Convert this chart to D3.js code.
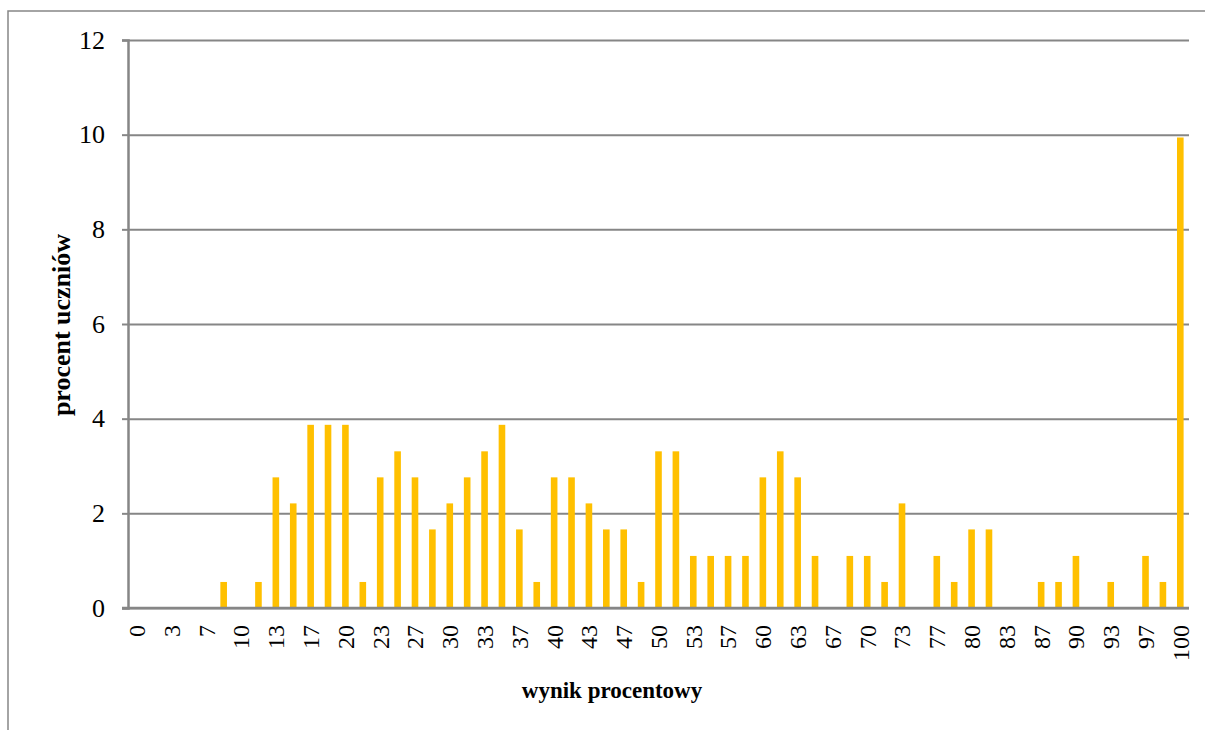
<!DOCTYPE html>
<html>
<head>
<meta charset="utf-8">
<script src="https://cdn.jsdelivr.net/npm/d3@7"></script>
<style>
    body { margin: 0; background: #fff; }
    svg { display: block; font-family: "Liberation Serif", "Times New Roman", serif; }
</style>
</head>
<body>
<div id="chart"></div>
<script>
// categories: percentage score (rounded), only every other one is labelled
const categories = [
    "0", "2", "3", "5", "7", "8", "10", "12", "13", "15", "17", "18", "20", "22", "23", "25",
    "27", "28", "30", "32", "33", "35", "37", "38", "40", "42", "43", "45", "47", "48", "50",
    "52", "53", "55", "57", "58", "60", "62", "63", "65", "67", "68", "70", "72", "73", "75",
    "77", "78", "80", "82", "83", "85", "87", "88", "90", "92", "93", "95", "97", "98", "100"
];
// percent of students for each category
const values = [
    0, 0, 0, 0, 0, 0.55, 0, 0.55, 2.76, 2.21, 3.87, 3.87, 3.87, 0.55, 2.76, 3.31,
    2.76, 1.66, 2.21, 2.76, 3.31, 3.87, 1.66, 0.55, 2.76, 2.76, 2.21, 1.66, 1.66, 0.55, 3.31,
    3.31, 1.10, 1.10, 1.10, 1.10, 2.76, 3.31, 2.76, 1.10, 0, 1.10, 1.10, 0.55, 2.21, 0,
    1.10, 0.55, 1.66, 1.66, 0, 0, 0.55, 0.55, 1.10, 0, 0.55, 0, 1.10, 0.55, 9.94
];
const yTicks = [0, 2, 4, 6, 8, 10, 12];
const xLabels = categories.filter((c, i) => i % 2 === 0);

const W = 1205, H = 730;
const plot = { left: 128, right: 1189, top: 40, bottom: 608 };
const grey = "#868686";

const svg = d3.select("#chart").append("svg")
    .attr("width", W)
    .attr("height", H);

// chart area border
svg.append("rect")
    .attr("x", 8).attr("y", 11)
    .attr("width", W + 20).attr("height", H + 20)
    .attr("fill", "none")
    .attr("stroke", grey)
    .attr("stroke-width", 1.5);

const x = d3.scaleBand()
    .domain(categories)
    .range([plot.left, plot.right])
    .paddingInner(0.62)
    .paddingOuter(0.31);

const y = d3.scaleLinear()
    .domain([0, 12])
    .range([plot.bottom, plot.top]);

// grid
svg.append("g")
    .attr("class", "y grid")
    .attr("transform", `translate(${plot.left},0)`)
    .call(d3.axisLeft(y).tickValues(yTicks).tickSize(-(plot.right - plot.left)).tickFormat(""))
    .call(g => g.select(".domain").remove())
    .selectAll(".tick line")
    .attr("stroke", grey)
    .attr("stroke-width", 2);

// bars
svg.append("g")
    .selectAll("rect")
    .data(values)
    .enter().append("rect")
    .attr("x", (d, i) => x(categories[i]))
    .attr("y", d => y(d))
    .attr("width", x.bandwidth())
    .attr("height", d => y(0) - y(d))
    .attr("fill", "#FFC000");

// y axis
const yAxis = svg.append("g")
    .attr("transform", `translate(${plot.left},0)`)
    .call(d3.axisLeft(y).tickValues(yTicks).tickSize(6).tickPadding(17));
yAxis.select(".domain").attr("stroke", grey).attr("stroke-width", 2.5);
yAxis.selectAll(".tick line").attr("stroke", grey).attr("stroke-width", 2);
yAxis.selectAll(".tick text")
    .attr("font-size", 26)
    .attr("font-family", "Liberation Serif")
    .attr("fill", "#000");

// x axis
const xAxis = svg.append("g")
    .attr("transform", `translate(0,${plot.bottom})`)
    .call(d3.axisBottom(x).tickValues(xLabels).tickSize(0));
xAxis.select(".domain").remove();
xAxis.append("line")
    .attr("x1", plot.left - 6).attr("x2", plot.right)
    .attr("y1", 0).attr("y2", 0)
    .attr("stroke", grey)
    .attr("stroke-width", 2.5);
xAxis.selectAll(".tick text")
    .attr("transform", "rotate(-90)")
    .attr("x", -17)
    .attr("y", 0)
    .attr("dy", "0.35em")
    .style("text-anchor", "end")
    .attr("font-size", 24)
    .attr("font-family", "Liberation Serif")
    .attr("fill", "#000");

// axis titles
svg.append("text")
    .attr("x", 612)
    .attr("y", 698)
    .attr("text-anchor", "middle")
    .attr("font-size", 23)
    .attr("font-weight", "bold")
    .text("wynik procentowy");

svg.append("text")
    .attr("transform", "translate(70,325) rotate(-90)")
    .attr("text-anchor", "middle")
    .attr("font-size", 26)
    .attr("font-weight", "bold")
    .text("procent uczniów");
</script>
</body>
</html>
